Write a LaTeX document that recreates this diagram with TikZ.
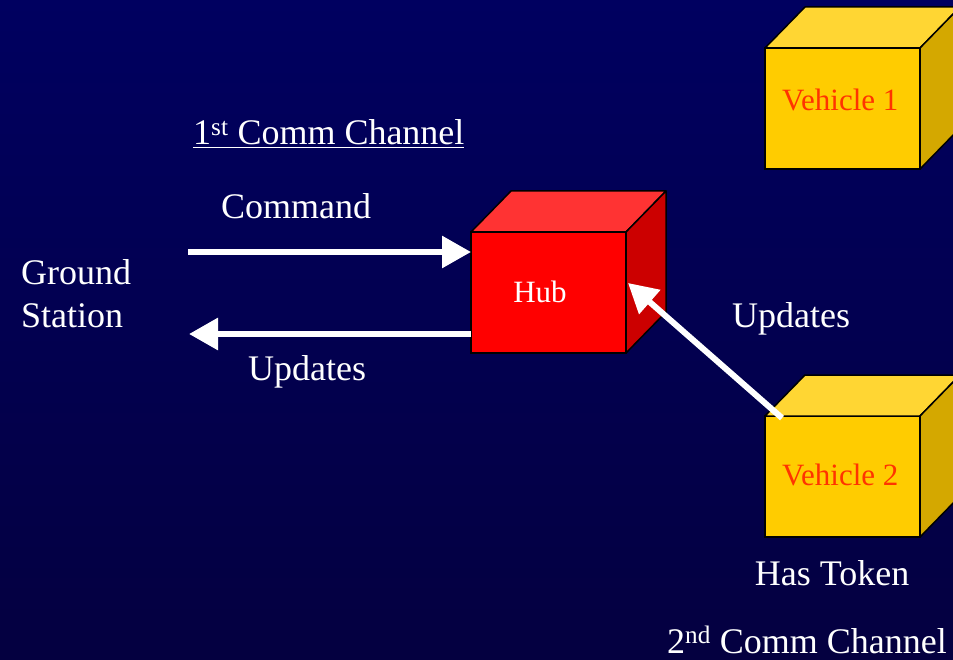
\documentclass[tikz,border=0pt]{standalone}
\usepackage{fontspec}
\setmainfont{Liberation Serif}
\usetikzlibrary{positioning,arrows.meta}

\definecolor{bgtop}{RGB}{0,0,96}
\definecolor{bgbottom}{RGB}{4,0,64}
\definecolor{hubfront}{RGB}{255,0,0}
\definecolor{hubtop}{RGB}{255,51,51}
\definecolor{hubside}{RGB}{204,0,0}
\definecolor{vehfront}{RGB}{255,204,0}
\definecolor{vehtop}{RGB}{255,214,51}
\definecolor{vehside}{RGB}{212,168,0}
\definecolor{vehtext}{RGB}{255,51,0}

\tikzset{
  cubeface/.style={draw=black, line width=1.5pt, minimum width=155pt,
    minimum height=121pt, inner sep=0pt, outer sep=0pt},
  cubeedge/.style={draw=black, line width=1.5pt, line join=round},
  bigtext/.style={text=white, inner sep=0pt, font=\fontsize{36}{43}\selectfont},
  boxtext/.style={inner sep=0pt, font=\fontsize{31}{36}\selectfont},
  flow/.style={draw=white, line width=6pt,
    -{Triangle[length=29pt,width=31pt]}}
}

% box with its front face as a node: name, corner, front, top, side
\newcommand{\drawcube}[5]{%
  \node[cubeface, fill=#3, anchor=north west] (#1) at (#2) {};
  \draw[cubeedge, fill=#4] (#1.north west) -- ++(40,-41) -- ++(155,0)
    -- (#1.north east) -- cycle;
  \draw[cubeedge, fill=#5] (#1.north east) -- ++(40,-41) -- ++(0,121)
    -- (#1.south east) -- cycle;
}

\begin{document}
\begin{tikzpicture}[x=1pt, y=-1pt]

    \useasboundingbox (0,0) rectangle (953,660);
    \shade[top color=bgtop, bottom color=bgbottom] (0,0) rectangle (953,660);
    \clip (0,0) rectangle (953,660);

    % the three boxes
    \drawcube{hub}{471,232}{hubfront}{hubtop}{hubside}
    \drawcube{veh1}{765,48}{vehfront}{vehtop}{vehside}
    \drawcube{veh2}{765,416}{vehfront}{vehtop}{vehside}

    \node[boxtext, text=white, anchor=base] (hubname) at (540,302) {Hub};
    \node[boxtext, text=vehtext, anchor=base west] (veh1name) at (782,111) {Vehicle 1};
    \node[boxtext, text=vehtext, anchor=base west] (veh2name) at (782,485) {Vehicle 2};

    % ground station side (base is the second line)
    \node[bigtext, anchor=base west, align=left] (ground) at (21,327) {Ground\\Station};
    \node[bigtext, anchor=base west] (chan1) at (193,145)
        {\underline{1\textsuperscript{st} Comm Channel}};
    \node[bigtext, anchor=base west] (command) at (221,219) {Command};
    \node[bigtext, anchor=base west] (upd1) at (248,380) {Updates};

    \coordinate (cmdtail) at (188,252);
    \coordinate (updtip) at (189,334);
    \draw[flow] (cmdtail) -- (cmdtail -| hub.west);
    \draw[flow] (updtip -| hub.west) -- (updtip);

    % vehicle side
    \node[bigtext, anchor=base west] (upd2) at (732,327) {Updates};
    \node[bigtext, anchor=base] (token) at (832,585) {Has Token};
    \node[bigtext, anchor=base west] (chan2) at (667,653)
        {2\textsuperscript{nd} Comm Channel};

    \draw[flow] ([xshift=17pt, yshift=-2pt]veh2.north west)
        -- ([xshift=2pt, yshift=9.5pt]hub.east);

\end{tikzpicture}
\end{document}
